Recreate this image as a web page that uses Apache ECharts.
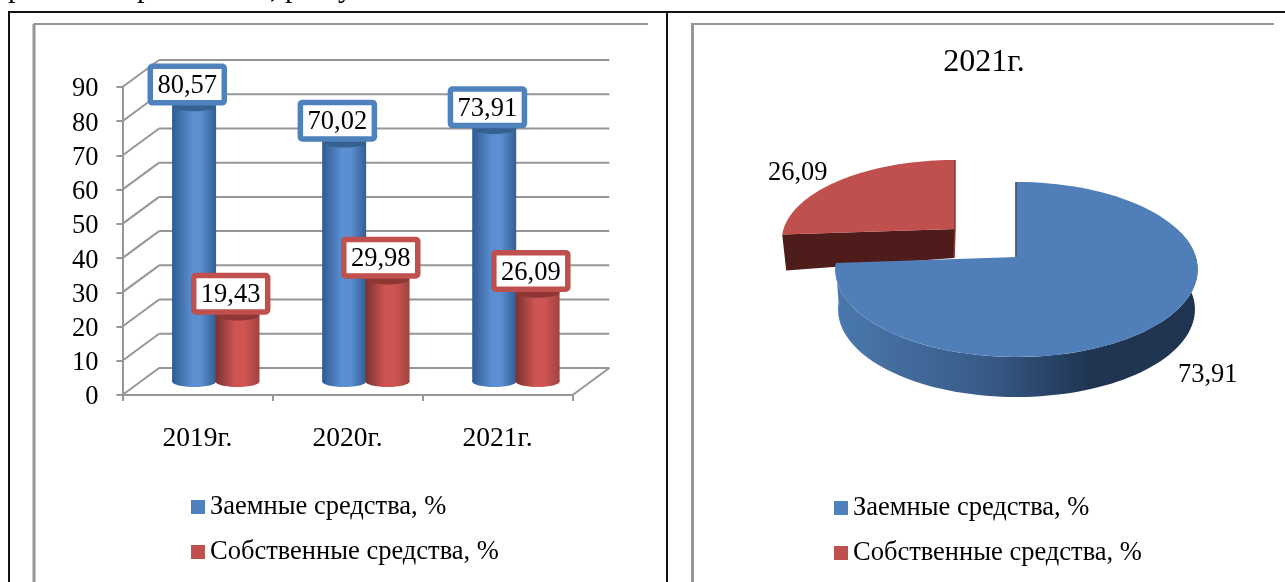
<!DOCTYPE html>
<html><head><meta charset="utf-8">
<style>html,body{margin:0;padding:0;background:#fff;overflow:hidden}#c{width:1285px;height:582px}</style>
<script src="https://cdn.jsdelivr.net/npm/echarts@6/dist/echarts.min.js"></script>
</head><body><div id="c"></div>
<script>
const categories = ['2019г.', '2020г.', '2021г.'];
const borrowed = [80.57, 70.02, 73.91];
const own = [19.43, 29.98, 26.09];
const yTicks = [0, 10, 20, 30, 40, 50, 60, 70, 80, 90];
const pieTitle = '2021г.';
const pieBorrowed = 73.91;
const pieOwn = 26.09;
const nameBorrowed = 'Заемные средства, %';
const nameOwn = 'Собственные средства, %';

const FONT = '"Liberation Serif","Times New Roman",serif';
const BLUE = '#4f81bd', RED = '#c0504d';
const DX = 36.7, DY = -27;           // 3D depth of the box
const fmt = v => v.toFixed(2).replace('.', ',');

const chart = echarts.init(document.getElementById('c'), null, {renderer: 'canvas'});

function wallItem(params, api) {
  const cs = params.coordSys;
  const v = api.value(1);
  const y = api.coord([0, v])[1];
  const mk = (x1, y1, x2, y2) => ({type: 'line', shape: {x1, y1, x2, y2},
    style: {stroke: '#969696', lineWidth: 2}});
  const kids = [
    mk(cs.x, y, cs.x + DX, y + DY),
    mk(cs.x + DX, y + DY, cs.x + cs.width + DX, y + DY)
  ];
  if (v === 0) kids.push(mk(cs.x + cs.width, y, cs.x + cs.width + DX, y + DY));
  return {type: 'group', children: kids};
}

function cylinder(side, c1, c2, c3, cTop, cBorder) {
  return function (params, api) {
    const i = api.value(0), v = api.value(1);
    const base = api.coord([i, 0]), top = api.coord([i, v]);
    const cx = base[0] + DX / 2 + side * 21.7;
    const y0 = base[1] + DY / 2, y1 = top[1] + DY / 2;
    const rx = 22, ry = 5.5;
    const grad = {type: 'linear', x: 0, y: 0, x2: 1, y2: 0, colorStops: [
      {offset: 0, color: c1}, {offset: 0.45, color: c2}, {offset: 0.65, color: c2}, {offset: 1, color: c3}]};
    const lx = cx - 6.8;
    return {type: 'group', children: [
      {type: 'ellipse', shape: {cx, cy: y0, rx, ry}, style: {fill: grad}},
      {type: 'rect', shape: {x: cx - rx, y: y1, width: rx * 2, height: y0 - y1}, style: {fill: grad}},
      {type: 'ellipse', shape: {cx, cy: y1, rx, ry}, style: {fill: cTop}},
      {type: 'rect', shape: {x: lx - 37, y: y1 - 39.5, width: 74, height: 36.5, r: 2},
        style: {fill: '#fff', stroke: cBorder, lineWidth: 5.5}, z2: 10},
      {type: 'text', z2: 11, style: {text: fmt(v), x: lx, y: y1 - 19.5, align: 'center', verticalAlign: 'middle',
        fontSize: 26.5, fontFamily: FONT, fill: '#000'}}
    ]};
  };
}

// Projective mapping that tilts the polar circle into a perspective disc
function tilt(params, api, pct, apex, a, b) {
  const cs = params.coordSys;
  const p = api.coord([1, pct]);
  const nx = (p[0] - cs.cx) / cs.r, ny = (p[1] - cs.cy) / cs.r;
  const w = 1 - (1 / 7) * ny;
  return [apex[0] + a * nx / w, apex[1] + b * ny / w];
}
function arc(params, api, from, to, apex, a, b) {
  const pts = [], n = 90;
  for (let k = 0; k <= n; k++) pts.push(tilt(params, api, from + (to - from) * k / n, apex, a, b));
  return pts;
}

function blueSlice(params, api) {
  const apex = [1016.5, 257], a = 179.3, b = 85.7, depth = 40;
  const from = api.value(1), to = api.value(2);
  const rim = arc(params, api, from, to, apex, a, b);
  const sideRim = arc(params, api, 20, to, apex, a, b);
  const low = sideRim.map(q => [apex[0] + (q[0] - apex[0]) * 0.985, q[1] + depth]).reverse();
  const mid = tilt(params, api, (from + to) / 2, apex, a, b);
  return {type: 'group', children: [
    {type: 'polygon', shape: {points: sideRim.concat(low)}, style: {fill: {type: 'linear', global: true,
      x: 838, y: 0, x2: 1198, y2: 0, colorStops: [
        {offset: 0, color: '#4a78ac'}, {offset: 0.4, color: '#385c89'},
        {offset: 0.7, color: '#1f3552'}, {offset: 1, color: '#1e3450'}]}}},
    {type: 'polygon', shape: {points: [apex].concat(rim)}, style: {fill: '#4f7eb9'}},
    {type: 'line', shape: {x1: rim[0][0] - 0.5, y1: rim[0][1], x2: apex[0] - 0.5, y2: apex[1]},
      style: {stroke: '#243d5f', lineWidth: 1.5}},
    {type: 'text', style: {text: fmt(api.value(3)), x: mid[0] + 46, y: mid[1] + 53, align: 'center',
      verticalAlign: 'middle', fontSize: 26.5, fontFamily: FONT, fill: '#000'}}
  ]};
}
function redSlice(params, api) {
  const apex = [955, 229], a = 171.5, b = 78.9;
  const from = api.value(1), to = api.value(2);
  const rim = arc(params, api, from, to, apex, a, b);
  const mid = tilt(params, api, (from + to) / 2, apex, a, b);
  const e = rim[0];
  return {type: 'group', children: [
    {type: 'polygon', shape: {points: [apex, e, [e[0] + 4, e[1] + 36], [apex[0] - 1, apex[1] + 29]]},
      style: {fill: '#4e1d1b'}},
    {type: 'polygon', shape: {points: [apex].concat(rim)}, style: {fill: RED}},
    {type: 'line', shape: {x1: rim[rim.length - 1][0], y1: rim[rim.length - 1][1], x2: apex[0], y2: apex[1]},
      style: {stroke: '#8a3533', lineWidth: 1.5}},
    {type: 'line', shape: {x1: apex[0], y1: apex[1], x2: apex[0] - 1, y2: apex[1] + 29},
      style: {stroke: '#8a3533', lineWidth: 1.5}},
    {type: 'text', style: {text: fmt(api.value(3)), x: mid[0] - 43, y: mid[1] - 7, align: 'center',
      verticalAlign: 'middle', fontSize: 26.5, fontFamily: FONT, fill: '#000'}}
  ]};
}

const line = (x1, y1, x2, y2, stroke, lineWidth) => ({type: 'line', silent: true, z: 0,
  shape: {x1, y1, x2, y2}, style: {stroke, lineWidth}});
const stub = (x, t) => ({type: 'text', silent: true, style: {text: t, x, y: -26, fontSize: 30, fontFamily: FONT, fill: '#000'}});

const legendBase = {orient: 'vertical', padding: 0, itemWidth: 14, itemHeight: 14, itemGap: 7, selectedMode: false,
  icon: 'rect', textStyle: {fontFamily: FONT, fontSize: 26.5, color: '#000', lineHeight: 28, height: 28, padding: [10, 0, 0, 0]},
  data: [nameBorrowed, nameOwn]};

chart.setOption({
  backgroundColor: '#fff',
  animation: false,
  title: {text: pieTitle, left: 984, top: 47, textAlign: 'center', padding: 0,
    textStyle: {fontFamily: FONT, fontSize: 32, fontWeight: 'normal', color: '#000'}},
  legend: [
    Object.assign({left: 191, top: 488}, legendBase),
    Object.assign({left: 834, top: 489}, legendBase)
  ],
  grid: {left: 122.4, top: 87, width: 450.2, height: 308, containLabel: false},
  xAxis: {type: 'category', data: categories, boundaryGap: true,
    axisLine: {lineStyle: {color: '#969696', width: 2}},
    axisTick: {show: true, length: 6, lineStyle: {color: '#969696', width: 2}},
    axisLabel: {fontFamily: FONT, fontSize: 27.5, color: '#000', margin: 30}},
  yAxis: {type: 'value', min: 0, max: 90, interval: 10,
    axisLine: {show: true, lineStyle: {color: '#969696', width: 2}},
    axisTick: {show: true, length: 6, lineStyle: {color: '#969696', width: 2}},
    splitLine: {show: false},
    axisLabel: {fontFamily: FONT, fontSize: 26.5, color: '#000', margin: 24, verticalAlign: 'top', lineHeight: 5}},
  polar: {center: [1016, 257], radius: 100},
  angleAxis: {min: 0, max: 100, startAngle: 90, clockwise: true, show: false},
  radiusAxis: {min: 0, max: 1, show: false},
  series: [
    {type: 'custom', name: 'walls', silent: true, z: 1, clip: false, renderItem: wallItem,
      data: yTicks.map(v => [0, v])},
    {type: 'custom', name: nameBorrowed, z: 2, clip: false, itemStyle: {color: BLUE},
      renderItem: cylinder(-1, '#2f5b92', '#5b8fd2', '#335e92', '#36608f', BLUE),
      data: borrowed.map((v, i) => [i, v])},
    {type: 'custom', name: nameOwn, z: 3, clip: false, itemStyle: {color: RED},
      renderItem: cylinder(1, '#7a3230', '#cf5553', '#a04340', '#8e3735', RED),
      data: own.map((v, i) => [i, v])},
    {type: 'custom', coordinateSystem: 'polar', name: nameOwn, z: 2, clip: false, itemStyle: {color: RED},
      renderItem: redSlice, data: [[1, pieBorrowed, pieBorrowed + pieOwn, pieOwn]]},
    {type: 'custom', coordinateSystem: 'polar', name: nameBorrowed, z: 3, clip: false, itemStyle: {color: BLUE},
      renderItem: blueSlice, data: [[1, 0, pieBorrowed, pieBorrowed]]}
  ],
  graphic: [
    line(8, 12, 1285, 12, '#111', 2),
    line(9, 12, 9, 582, '#111', 2),
    line(667, 12, 667, 582, '#111', 2),
    line(33.5, 24, 648, 24, '#969696', 2),
    line(34, 24, 34, 582, '#969696', 3),
    line(691, 24, 1274, 24, '#969696', 2),
    line(692.5, 24, 692.5, 582, '#969696', 3),
    stub(8, 'р'), stub(137, 'р'), stub(270, ','), stub(285, 'р'), stub(338, 'у')
  ]
});
</script></body></html>
